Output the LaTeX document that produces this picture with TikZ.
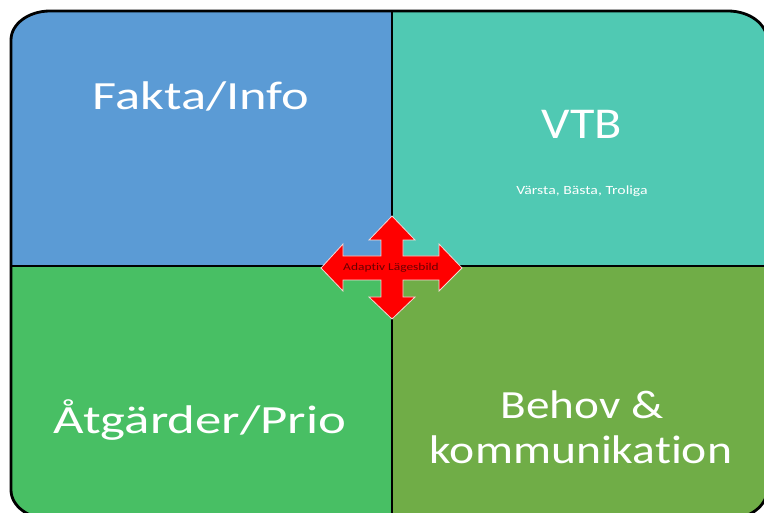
\documentclass[tikz,border=0pt]{standalone}
\usepackage{fontspec}
\setmainfont{Carlito}[Ligatures=NoCommon]
\definecolor{qblue}{HTML}{5B9BD5}
\definecolor{qteal}{HTML}{50C9B3}
\definecolor{qgreen}{HTML}{48BF64}
\definecolor{qolive}{HTML}{70AD47}
\definecolor{arrred}{HTML}{FF0000}
\definecolor{arredge}{HTML}{F4D9D6}
\definecolor{lbltxt}{HTML}{6A0000}
\tikzset{
  bigtxt/.style={text=white, anchor=base, inner sep=0pt, font=\fontsize{39}{39}\selectfont},
  divider/.style={draw=black, line width=1.8pt},
  frame/.style={draw=black, line width=2.8pt},
}
\begin{document}
\begin{tikzpicture}[x=1pt,y=-1pt]
\useasboundingbox (0,0) rectangle (764,513);
\clip (0,0) rectangle (764,513);
% outer rounded frame with elliptical corners
\def\outline{(50,11) -- (728,11) arc[start angle=90,end angle=0,x radius=39,y radius=-29] -- (767,490) arc[start angle=0,end angle=-90,x radius=39,y radius=-29] -- (50,519) arc[start angle=270,end angle=180,x radius=39,y radius=-29] -- (11,40) arc[start angle=180,end angle=90,x radius=39,y radius=-29] -- cycle}
\begin{scope}
\clip \outline;
\fill[qblue] (0,0) rectangle (392,266);
\fill[qteal] (392,0) rectangle (770,266);
\fill[qgreen] (0,266) rectangle (392,520);
\fill[qolive] (392,266) rectangle (770,520);
\coordinate (vt) at (392,0);
\coordinate (vb) at (392,520);
\coordinate (hl) at (0,266);
\coordinate (hr) at (770,266);
\draw[divider] (vt) -- (vb);
\draw[divider] (hl) -- (hr);
\end{scope}
\draw[frame] \outline;
% texts
\node[bigtxt, font=\fontsize{40}{40}\selectfont] (fakta) at (201,110) {\scalebox{1.31}[1]{Fakta/Info}};
\node[bigtxt, font=\fontsize{44}{44}\selectfont] (vtb) at (582,139) {\scalebox{1.14}[1]{VTB}};
\node[bigtxt, font=\fontsize{12.5}{12.5}\selectfont] (varsta) at (582,195) {\scalebox{1.26}[1]{Värsta, Bästa, Troliga}};
\node[bigtxt, font=\fontsize{40}{40}\selectfont] (atg) at (200,434) {\scalebox{1.32}[1]{Åtgärder/Prio}};
\node[bigtxt, font=\fontsize{40}{40}\selectfont] (behov) at (582,418) {\scalebox{1.18}[1]{Behov \&}};
\node[bigtxt, font=\fontsize{40}{40}\selectfont] (komm) at (581,464) {\scalebox{1.19}[1]{kommunikation}};
% four-way arrow
\draw[fill=arrred, draw=arredge, line width=0.8pt, line join=miter]
 (392,216) -- (415,240) -- (403,240) -- (403,256) -- (439,256) -- (439,244) -- (462,268)
 -- (439,291) -- (439,280) -- (403,280) -- (403,297) -- (415,297) -- (392,319)
 -- (369,297) -- (381,297) -- (381,280) -- (343,280) -- (343,291) -- (321,268)
 -- (343,244) -- (343,256) -- (381,256) -- (381,240) -- (369,240) -- cycle;
\node[anchor=base, inner sep=0pt, text=lbltxt, font=\fontsize{10.5}{10.5}\selectfont] (adapt) at (391,271) {\scalebox{1.28}[1]{Adaptiv Lägesbild}};
\end{tikzpicture}
\end{document}
